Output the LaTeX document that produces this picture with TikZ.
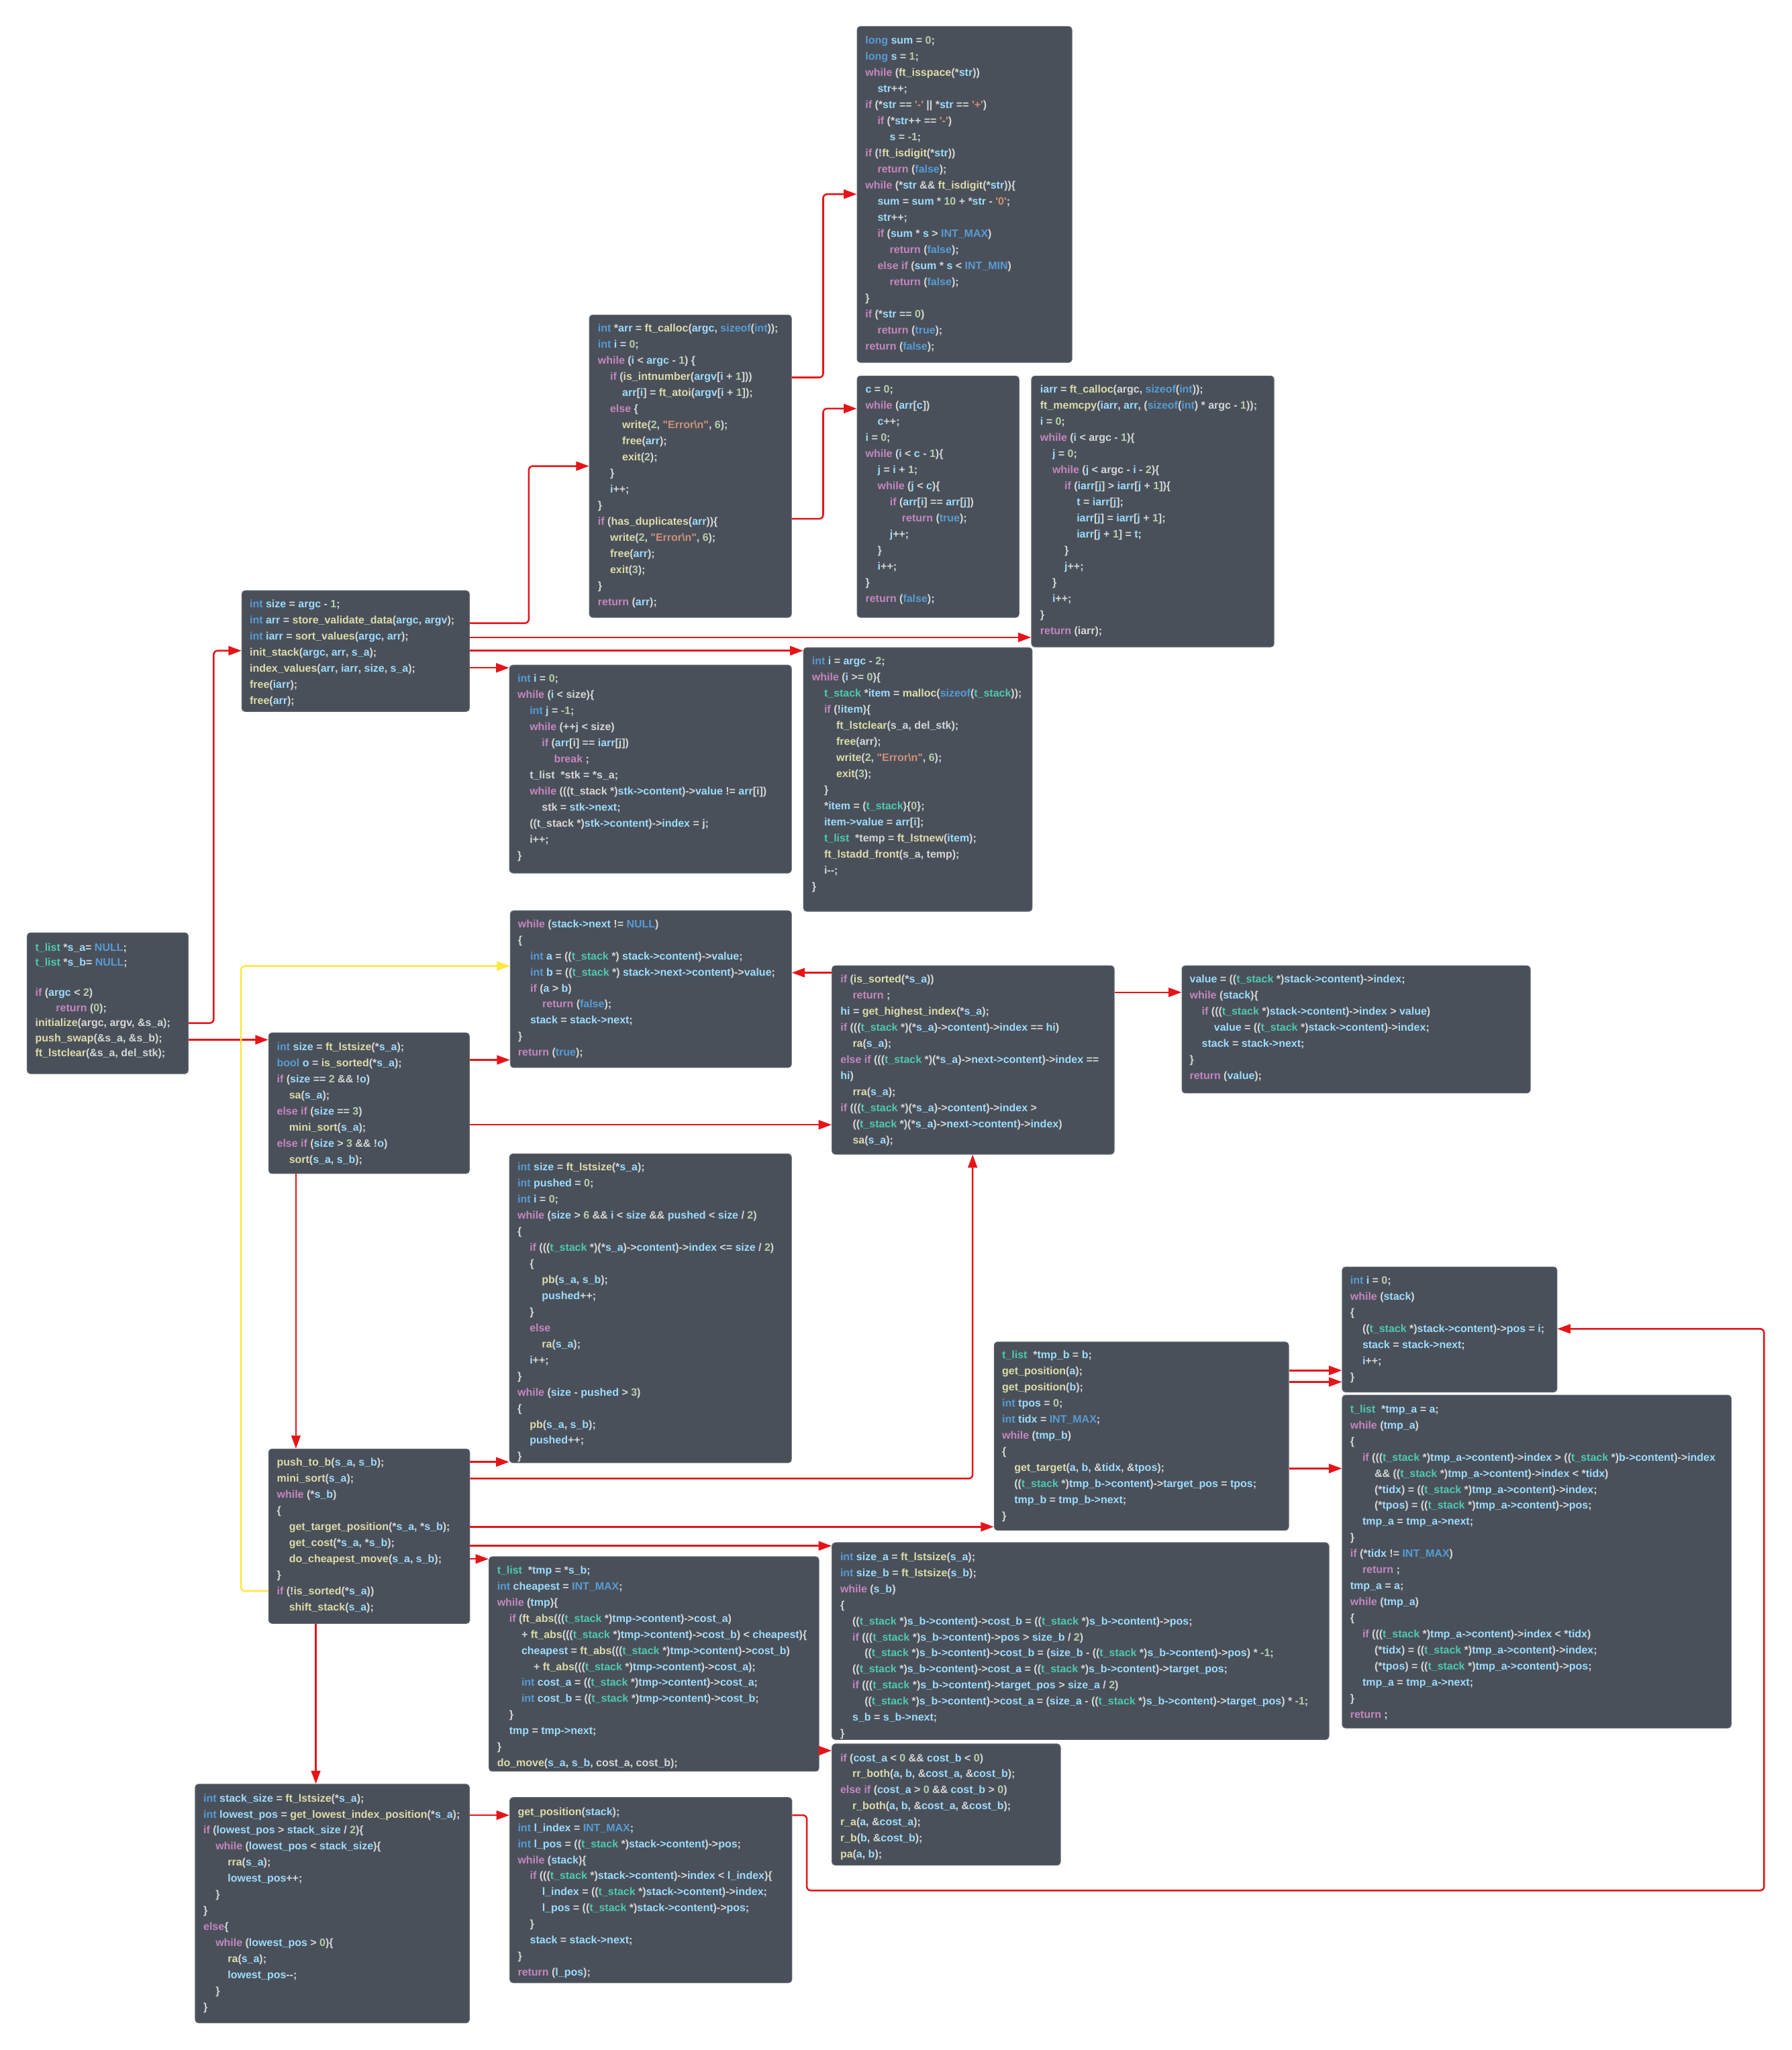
\documentclass[tikz,border=0pt]{standalone}
\usepackage{fontspec}
\newfontfamily\codefont{Liberation Sans}
\usetikzlibrary{arrows.meta}

% syntax colours
\definecolor{colkw}{RGB}{197,134,192}
\definecolor{colty}{RGB}{86,156,214}
\definecolor{colfn}{RGB}{220,220,170}
\definecolor{colva}{RGB}{156,220,254}
\definecolor{colnm}{RGB}{181,206,168}
\definecolor{colsr}{RGB}{206,145,120}
\definecolor{coltp}{RGB}{78,201,176}
\definecolor{colpl}{RGB}{214,214,214}
% boxes and connectors
\definecolor{boxfill}{RGB}{74,80,89}
\definecolor{boxline}{RGB}{98,103,111}
\definecolor{cred}{RGB}{230,20,24}
\definecolor{cyel}{RGB}{255,231,58}

\newcommand\kw[1]{\textcolor{colkw}{#1}}
\newcommand\ty[1]{\textcolor{colty}{#1}}
\newcommand\fn[1]{\textcolor{colfn}{#1}}
\newcommand\va[1]{\textcolor{colva}{#1}}
\newcommand\nm[1]{\textcolor{colnm}{#1}}
\newcommand\sr[1]{\textcolor{colsr}{#1}}
\newcommand\tp[1]{\textcolor{coltp}{#1}}

% one code line with an indentation level, and a block of such lines
\newdimen\codeind \codeind=9.3pt
\newcommand\cln[2]{\hbox{\hspace*{#1\codeind}#2}}
\newcommand\cblk[2]{\vtop{\baselineskip=#1\relax\lineskiplimit=-\maxdimen\lineskip=0pt\relax #2}}

\begin{document}
\begin{tikzpicture}[x=1pt,y=-1pt,
  cbox/.style={draw=boxline, line width=0.5pt, fill=boxfill, rounded corners=2.5pt,
               anchor=north west, inner sep=0pt},
  ctext/.style={anchor=base west, inner sep=0pt, text=colpl,
               font=\codefont\bfseries\fontsize{8.2}{12.3}\selectfont},
  conn/.style={draw=cred, line width=1.3pt, rounded corners=3pt,
               -{Triangle[length=10pt,width=7pt]}},
  yconn/.style={conn, draw=cyel}]

\fill[white] (0,0) rectangle (1370,1568);
\useasboundingbox (0,0) rectangle (1370,1568);

% ---------------- boxes ----------------
\node[cbox, minimum width=164.3pt, minimum height=257pt]   (batoi)     at (655.2,20) {};
\node[cbox, minimum width=154.5pt, minimum height=231.4pt] (bstore)    at (450.5,240.6) {};
\node[cbox, minimum width=123.8pt, minimum height=184.7pt] (bdup)      at (655.2,287.3) {};
\node[cbox, minimum width=185.4pt, minimum height=207.3pt] (bsortv)    at (788.6,287.3) {};
\node[cbox, minimum width=174pt,   minimum height=92.5pt]  (bmain)     at (184.7,451.5) {};
\node[cbox, minimum width=215.6pt, minimum height=159pt]   (bindex)    at (389.4,508.5) {};
\node[cbox, minimum width=174.9pt, minimum height=201.7pt] (binit)     at (614.2,495.1) {};
\node[cbox, minimum width=123.2pt, minimum height=107.8pt] (bleft)     at (20.5,713.2) {};
\node[cbox, minimum width=153.5pt, minimum height=107.7pt] (bps)       at (205.2,789.7) {};
\node[cbox, minimum width=215pt,   minimum height=120pt]   (bissorted) at (390,696.3) {};
\node[cbox, minimum width=215.8pt, minimum height=144.2pt] (bmini)     at (636,738.4) {};
\node[cbox, minimum width=266.4pt, minimum height=97.4pt]  (bhi)       at (903.6,738.4) {};
\node[cbox, minimum width=215.6pt, minimum height=236.3pt] (bptb)      at (389.4,882.3) {};
\node[cbox, minimum width=153.8pt, minimum height=133.5pt] (bsort)     at (205.2,1108) {};
\node[cbox, minimum width=225.2pt, minimum height=144pt]   (bgtp)      at (760,1026.2) {};
\node[cbox, minimum width=164.2pt, minimum height=95.7pt]  (bpos)      at (1026.2,968.8) {};
\node[cbox, minimum width=297.4pt, minimum height=254.7pt] (btgt)      at (1026.2,1066.8) {};
\node[cbox, minimum width=380pt,   minimum height=150.6pt] (bcost)     at (636,1179.7) {};
\node[cbox, minimum width=252.3pt, minimum height=164.2pt] (bdcm)      at (373.7,1190.4) {};
\node[cbox, minimum width=174.7pt, minimum height=92.8pt]  (bmove)     at (636,1333.6) {};
\node[cbox, minimum width=209.7pt, minimum height=182.6pt] (bshift)    at (149,1364.4) {};
\node[cbox, minimum width=215.7pt, minimum height=141.7pt] (bgetpos)   at (389.6,1374.6) {};

% ---------------- code ----------------
\node[ctext] (tatoi) at (661.6,33.8) {\cblk{12.3pt}{
\cln{0}{\ty{long} \va{sum} = \nm{0};}
\cln{0}{\ty{long} \va{s} = \nm{1};}
\cln{0}{\kw{while} (\fn{ft\_isspace}(*\va{str}))}
\cln{1}{\va{str}++;}
\cln{0}{\kw{if} (*\va{str} == \sr{'-'} || *\va{str} == \sr{'+'})}
\cln{1}{\kw{if} (*\va{str}++ == \sr{'-'})}
\cln{2}{\va{s} = \nm{-1};}
\cln{0}{\kw{if} (!\fn{ft\_isdigit}(*\va{str}))}
\cln{1}{\kw{return} (\ty{false});}
\cln{0}{\kw{while} (*\va{str} \&\& \fn{ft\_isdigit}(*\va{str}))\{}
\cln{1}{\va{sum} = \va{sum} * \nm{10} + *\va{str} - \sr{'0'};}
\cln{1}{\va{str}++;}
\cln{1}{\kw{if} (\va{sum} * \va{s} > \ty{INT\_MAX})}
\cln{2}{\kw{return} (\ty{false});}
\cln{1}{\kw{else if} (\va{sum} * \va{s} < \ty{INT\_MIN})}
\cln{2}{\kw{return} (\ty{false});}
\cln{0}{\}}
\cln{0}{\kw{if} (*\va{str} == \nm{0})}
\cln{1}{\kw{return} (\ty{true});}
\cln{0}{\kw{return} (\ty{false});}
}};

\node[ctext] (tstore) at (457.1,253.9) {\cblk{12.3pt}{
\cln{0}{\ty{int} *\va{arr} = \fn{ft\_calloc}(\va{argc}, \ty{sizeof}(\ty{int}));}
\cln{0}{\ty{int} \va{i} = \nm{0};}
\cln{0}{\kw{while} (\va{i} < \va{argc} - \nm{1}) \{}
\cln{1}{\kw{if} (\fn{is\_intnumber}(\va{argv}[\va{i} + \nm{1}]))}
\cln{2}{\va{arr}[\va{i}] = \fn{ft\_atoi}(\va{argv}[\va{i} + \nm{1}]);}
\cln{1}{\kw{else} \{}
\cln{2}{\fn{write}(\nm{2}, \sr{"Error\textbackslash n"}, \nm{6});}
\cln{2}{\fn{free}(\va{arr});}
\cln{2}{\fn{exit}(\nm{2});}
\cln{1}{\}}
\cln{1}{\va{i}++;}
\cln{0}{\}}
\cln{0}{\kw{if} (\fn{has\_duplicates}(\va{arr}))\{}
\cln{1}{\fn{write}(\nm{2}, \sr{"Error\textbackslash n"}, \nm{6});}
\cln{1}{\fn{free}(\va{arr});}
\cln{1}{\fn{exit}(\nm{3});}
\cln{0}{\}}
\cln{0}{\kw{return} (\va{arr});}
}};

\node[ctext] (tdup) at (661.7,300.6) {\cblk{12.3pt}{
\cln{0}{\va{c} = \nm{0};}
\cln{0}{\kw{while} (\va{arr}[\va{c}])}
\cln{1}{\va{c}++;}
\cln{0}{\va{i} = \nm{0};}
\cln{0}{\kw{while} (\va{i} < \va{c} - \nm{1})\{}
\cln{1}{\va{j} = \va{i} + \nm{1};}
\cln{1}{\kw{while} (\va{j} < \va{c})\{}
\cln{2}{\kw{if} (\va{arr}[\va{i}] == \va{arr}[\va{j}])}
\cln{3}{\kw{return} (\ty{true});}
\cln{2}{\va{j}++;}
\cln{1}{\}}
\cln{1}{\va{i}++;}
\cln{0}{\}}
\cln{0}{\kw{return} (\ty{false});}
}};

\node[ctext] (tsortv) at (795.3,300.6) {\cblk{12.3pt}{
\cln{0}{\va{iarr} = \fn{ft\_calloc}(argc, \ty{sizeof}(\ty{int}));}
\cln{0}{\fn{ft\_memcpy}(\va{iarr}, \va{arr}, (\ty{sizeof}(\ty{int}) * argc - \nm{1}));}
\cln{0}{\va{i} = \nm{0};}
\cln{0}{\kw{while} (\va{i} < argc - \nm{1})\{}
\cln{1}{\va{j} = \nm{0};}
\cln{1}{\kw{while} (\va{j} < argc - \va{i} - \nm{2})\{}
\cln{2}{\kw{if} (\va{iarr}[\va{j}] > \va{iarr}[\va{j} + \nm{1}])\{}
\cln{3}{\va{t} = \va{iarr}[\va{j}];}
\cln{3}{\va{iarr}[\va{j}] = \va{iarr}[\va{j} + \nm{1}];}
\cln{3}{\va{iarr}[\va{j} + \nm{1}] = \va{t};}
\cln{2}{\}}
\cln{2}{\va{j}++;}
\cln{1}{\}}
\cln{1}{\va{i}++;}
\cln{0}{\}}
\cln{0}{\kw{return} (iarr);}
}};

\node[ctext] (tmain) at (190.8,464.8) {\cblk{12.3pt}{
\cln{0}{\ty{int} \va{size} = \va{argc} - \nm{1};}
\cln{0}{\ty{int} \va{arr} = \fn{store\_validate\_data}(\va{argc}, \va{argv});}
\cln{0}{\ty{int} \va{iarr} = \fn{sort\_values}(\va{argc}, \va{arr});}
\cln{0}{\fn{init\_stack}(\va{argc}, \va{arr}, \va{s\_a});}
\cln{0}{\fn{index\_values}(\va{arr}, \va{iarr}, \va{size}, \va{s\_a});}
\cln{0}{\fn{free}(\va{iarr});}
\cln{0}{\fn{free}(\va{arr});}
}};

\node[ctext] (tindex) at (395.6,521.7) {\cblk{12.3pt}{
\cln{0}{\ty{int} \va{i} = \nm{0};}
\cln{0}{\kw{while} (\va{i} < size)\{}
\cln{1}{\ty{int} \va{j} = \nm{-1};}
\cln{1}{\kw{while} (++j < size)}
\cln{2}{\kw{if} (\va{arr}[i] == \va{iarr}[j])}
\cln{3}{\kw{break} ;}
\cln{1}{t\_list\ \ *stk = *s\_a;}
\cln{1}{\kw{while} (((t\_stack *)\va{stk->content})->\va{value} != \va{arr}[i])}
\cln{2}{stk = \va{stk->next};}
\cln{1}{((t\_stack *)\va{stk->content})->\va{index} = j;}
\cln{1}{i++;}
\cln{0}{\}}
}};

\node[ctext] (tinit) at (620.8,508.4) {\cblk{12.3pt}{
\cln{0}{\ty{int} \va{i} = \va{argc} - \nm{2};}
\cln{0}{\kw{while} (\va{i} >= \nm{0})\{}
\cln{1}{\tp{t\_stack} *\va{item} = \fn{malloc}(\ty{sizeof}(\tp{t\_stack}));}
\cln{1}{\kw{if} (!\va{item})\{}
\cln{2}{\fn{ft\_lstclear}(s\_a, del\_stk);}
\cln{2}{\fn{free}(arr);}
\cln{2}{\fn{write}(\nm{2}, \sr{"Error\textbackslash n"}, \nm{6});}
\cln{2}{\fn{exit}(\nm{3});}
\cln{1}{\}}
\cln{1}{*\va{item} = (\tp{t\_stack})\{\nm{0}\};}
\cln{1}{\va{item->value} = \va{arr}[\va{i}];}
\cln{1}{\tp{t\_list}\ \ *temp = \fn{ft\_lstnew}(\va{item});}
\cln{1}{\fn{ft\_lstadd\_front}(s\_a, temp);}
\cln{1}{i--;}
\cln{0}{\}}
}};

\node[ctext] (tleft) at (26.8,727.3) {\cblk{11.55pt}{
\cln{0}{\tp{t\_list} *\va{s\_a}= \ty{NULL};}
\cln{0}{\tp{t\_list} *\va{s\_b}= \ty{NULL};}
\cln{0}{}
\cln{0}{\kw{if} (\va{argc} < \nm{2})}
\cln{1.7}{\kw{return} (\nm{0});}
\cln{0}{\fn{initialize}(argc, argv, \&s\_a);}
\cln{0}{\fn{push\_swap}(\&s\_a, \&s\_b);}
\cln{0}{\fn{ft\_lstclear}(\&s\_a, del\_stk);}
}};

\node[ctext] (tps) at (211.6,803.4) {\cblk{12.3pt}{
\cln{0}{\ty{int} \va{size} = \fn{ft\_lstsize}(*\va{s\_a});}
\cln{0}{\ty{bool} \va{o} = \fn{is\_sorted}(*\va{s\_a});}
\cln{0}{\kw{if} (\va{size} == \nm{2} \&\& !\va{o})}
\cln{1}{\fn{sa}(\va{s\_a});}
\cln{0}{\kw{else if} (\va{size} == \nm{3})}
\cln{1}{\fn{mini\_sort}(\va{s\_a});}
\cln{0}{\kw{else if} (\va{size} > \nm{3} \&\& !\va{o})}
\cln{1}{\fn{sort}(\va{s\_a}, \va{s\_b});}
}};

\node[ctext] (tissorted) at (396,709.4) {\cblk{12.3pt}{
\cln{0}{\kw{while} (\va{stack->next} != \ty{NULL})}
\cln{0}{\{}
\cln{1}{\ty{int} \va{a} = ((\tp{t\_stack} *) \va{stack->content})->\va{value};}
\cln{1}{\ty{int} \va{b} = ((\tp{t\_stack} *) \va{stack->next->content})->\va{value};}
\cln{1}{\kw{if} (\va{a} > \va{b})}
\cln{2}{\kw{return} (\ty{false});}
\cln{1}{\va{stack} = \va{stack->next};}
\cln{0}{\}}
\cln{0}{\kw{return} (\ty{true});}
}};

\node[ctext] (tmini) at (642.6,751.8) {\cblk{12.3pt}{
\cln{0}{\kw{if} (\fn{is\_sorted}(*\va{s\_a}))}
\cln{1}{\kw{return} ;}
\cln{0}{\va{hi} = \fn{get\_highest\_index}(*\va{s\_a});}
\cln{0}{\kw{if} (((\tp{t\_stack} *)(*\va{s\_a})->\va{content})->\va{index} == \va{hi})}
\cln{1}{\fn{ra}(\va{s\_a});}
\cln{0}{\kw{else if} (((\tp{t\_stack} *)(*\va{s\_a})->\va{next->content})->\va{index} ==}
\cln{0}{\va{hi})}
\cln{1}{\fn{rra}(\va{s\_a});}
\cln{0}{\kw{if} (((\tp{t\_stack} *)(*\va{s\_a})->\va{content})->\va{index} >}
\cln{1}{((\tp{t\_stack} *)(*\va{s\_a})->\va{next->content})->\va{index})}
\cln{1}{\fn{sa}(\va{s\_a});}
}};

\node[ctext] (thi) at (909.6,751.8) {\cblk{12.3pt}{
\cln{0}{\va{value} = ((\tp{t\_stack} *)\va{stack->content})->\va{index};}
\cln{0}{\kw{while} (\va{stack})\{}
\cln{1}{\kw{if} (((\tp{t\_stack} *)\va{stack->content})->\va{index} > \va{value})}
\cln{2}{\va{value} = ((\tp{t\_stack} *)\va{stack->content})->\va{index};}
\cln{1}{\va{stack} = \va{stack->next};}
\cln{0}{\}}
\cln{0}{\kw{return} (\va{value});}
}};

\node[ctext] (tptb) at (395.6,895.4) {\cblk{12.3pt}{
\cln{0}{\ty{int} \va{size} = \fn{ft\_lstsize}(*\va{s\_a});}
\cln{0}{\ty{int} \va{pushed} = \nm{0};}
\cln{0}{\ty{int} \va{i} = \nm{0};}
\cln{0}{\kw{while} (\va{size} > \nm{6} \&\& \va{i} < \va{size} \&\& \va{pushed} < \va{size} / \nm{2})}
\cln{0}{\{}
\cln{1}{\kw{if} (((\tp{t\_stack} *)(*\va{s\_a})->\va{content})->\va{index} <= \va{size} / \nm{2})}
\cln{1}{\{}
\cln{2}{\fn{pb}(\va{s\_a}, \va{s\_b});}
\cln{2}{\va{pushed}++;}
\cln{1}{\}}
\cln{1}{\kw{else}}
\cln{2}{\fn{ra}(\va{s\_a});}
\cln{1}{\va{i}++;}
\cln{0}{\}}
\cln{0}{\kw{while} (\va{size} - \va{pushed} > \nm{3})}
\cln{0}{\{}
\cln{1}{\fn{pb}(\va{s\_a}, \va{s\_b});}
\cln{1}{\va{pushed}++;}
\cln{0}{\}}
}};

\node[ctext] (tsort) at (211.6,1121.2) {\cblk{12.3pt}{
\cln{0}{\fn{push\_to\_b}(\va{s\_a}, \va{s\_b});}
\cln{0}{\fn{mini\_sort}(\va{s\_a});}
\cln{0}{\kw{while} (*\va{s\_b})}
\cln{0}{\{}
\cln{1}{\fn{get\_target\_position}(*\va{s\_a}, *\va{s\_b});}
\cln{1}{\fn{get\_cost}(*\va{s\_a}, *\va{s\_b});}
\cln{1}{\fn{do\_cheapest\_move}(\va{s\_a}, \va{s\_b});}
\cln{0}{\}}
\cln{0}{\kw{if} (!\fn{is\_sorted}(*\va{s\_a}))}
\cln{1}{\fn{shift\_stack}(\va{s\_a});}
}};

\node[ctext] (tgtp) at (766.2,1039.2) {\cblk{12.3pt}{
\cln{0}{\tp{t\_list}\ \ *\va{tmp\_b} = \va{b};}
\cln{0}{\fn{get\_position}(\va{a});}
\cln{0}{\fn{get\_position}(\va{b});}
\cln{0}{\ty{int} \va{tpos} = \nm{0};}
\cln{0}{\ty{int} \va{tidx} = \ty{INT\_MAX};}
\cln{0}{\kw{while} (\va{tmp\_b})}
\cln{0}{\{}
\cln{1}{\fn{get\_target}(\va{a}, \va{b}, \&\va{tidx}, \&\va{tpos});}
\cln{1}{((\tp{t\_stack} *)\va{tmp\_b->content})->\va{target\_pos} = \va{tpos};}
\cln{1}{\va{tmp\_b} = \va{tmp\_b->next};}
\cln{0}{\}}
}};

\node[ctext] (tpos) at (1032.4,982) {\cblk{12.3pt}{
\cln{0}{\ty{int} \va{i} = \nm{0};}
\cln{0}{\kw{while} (\va{stack})}
\cln{0}{\{}
\cln{1}{((\tp{t\_stack} *)\va{stack->content})->\va{pos} = \va{i};}
\cln{1}{\va{stack} = \va{stack->next};}
\cln{1}{\va{i}++;}
\cln{0}{\}}
}};

\node[ctext] (ttgt) at (1032.4,1080.5) {\cblk{12.3pt}{
\cln{0}{\tp{t\_list}\ \ *\va{tmp\_a} = \va{a};}
\cln{0}{\kw{while} (\va{tmp\_a})}
\cln{0}{\{}
\cln{1}{\kw{if} (((\tp{t\_stack} *)\va{tmp\_a->content})->\va{index} > ((\tp{t\_stack} *)\va{b->content})->\va{index}}
\cln{2}{\&\& ((\tp{t\_stack} *)\va{tmp\_a->content})->\va{index} < *\va{tidx})}
\cln{2}{(*\va{tidx}) = ((\tp{t\_stack} *)\va{tmp\_a->content})->\va{index};}
\cln{2}{(*\va{tpos}) = ((\tp{t\_stack} *)\va{tmp\_a->content})->\va{pos};}
\cln{1}{\va{tmp\_a} = \va{tmp\_a->next};}
\cln{0}{\}}
\cln{0}{\kw{if} (*\va{tidx} != \ty{INT\_MAX})}
\cln{1}{\kw{return} ;}
\cln{0}{\va{tmp\_a} = \va{a};}
\cln{0}{\kw{while} (\va{tmp\_a})}
\cln{0}{\{}
\cln{1}{\kw{if} (((\tp{t\_stack} *)\va{tmp\_a->content})->\va{index} < *\va{tidx})}
\cln{2}{(*\va{tidx}) = ((\tp{t\_stack} *)\va{tmp\_a->content})->\va{index};}
\cln{2}{(*\va{tpos}) = ((\tp{t\_stack} *)\va{tmp\_a->content})->\va{pos};}
\cln{1}{\va{tmp\_a} = \va{tmp\_a->next};}
\cln{0}{\}}
\cln{0}{\kw{return} ;}
}};

\node[ctext] (tcost) at (642.4,1193.4) {\cblk{12.3pt}{
\cln{0}{\ty{int} \va{size\_a} = \fn{ft\_lstsize}(\va{s\_a});}
\cln{0}{\ty{int} \va{size\_b} = \fn{ft\_lstsize}(\va{s\_b});}
\cln{0}{\kw{while} (\va{s\_b})}
\cln{0}{\{}
\cln{1}{((\tp{t\_stack} *)\va{s\_b->content})->\va{cost\_b} = ((\tp{t\_stack} *)\va{s\_b->content})->\va{pos};}
\cln{1}{\kw{if} (((\tp{t\_stack} *)\va{s\_b->content})->\va{pos} > \va{size\_b} / \nm{2})}
\cln{2}{((\tp{t\_stack} *)\va{s\_b->content})->\va{cost\_b} = (\va{size\_b} - ((\tp{t\_stack} *)\va{s\_b->content})->\va{pos}) * \nm{-1};}
\cln{1}{((\tp{t\_stack} *)\va{s\_b->content})->\va{cost\_a} = ((\tp{t\_stack} *)\va{s\_b->content})->\va{target\_pos};}
\cln{1}{\kw{if} (((\tp{t\_stack} *)\va{s\_b->content})->\va{target\_pos} > \va{size\_a} / \nm{2})}
\cln{2}{((\tp{t\_stack} *)\va{s\_b->content})->\va{cost\_a} = (\va{size\_a} - ((\tp{t\_stack} *)\va{s\_b->content})->\va{target\_pos}) * \nm{-1};}
\cln{1}{\va{s\_b} = \va{s\_b->next};}
\cln{0}{\}}
}};

\node[ctext] (tdcm) at (380,1203.7) {\cblk{12.3pt}{
\cln{0}{\tp{t\_list}\ \ *\va{tmp} = *\va{s\_b};}
\cln{0}{\ty{int} \va{cheapest} = \ty{INT\_MAX};}
\cln{0}{\kw{while} (\va{tmp})\{}
\cln{1}{\kw{if} (\fn{ft\_abs}(((\tp{t\_stack} *)\va{tmp->content})->\va{cost\_a})}
\cln{2}{+ \fn{ft\_abs}(((\tp{t\_stack} *)\va{tmp->content})->\va{cost\_b}) < \va{cheapest})\{}
\cln{2}{\va{cheapest} = \fn{ft\_abs}(((\tp{t\_stack} *)\va{tmp->content})->\va{cost\_b})}
\cln{3}{+ \fn{ft\_abs}(((\tp{t\_stack} *)\va{tmp->content})->\va{cost\_a});}
\cln{2}{\ty{int} \va{cost\_a} = ((\tp{t\_stack} *)\va{tmp->content})->\va{cost\_a};}
\cln{2}{\ty{int} \va{cost\_b} = ((\tp{t\_stack} *)\va{tmp->content})->\va{cost\_b};}
\cln{1}{\}}
\cln{1}{\va{tmp} = \va{tmp->next};}
\cln{0}{\}}
\cln{0}{\fn{do\_move}(\va{s\_a}, \va{s\_b}, cost\_a, cost\_b);}
}};

\node[ctext] (tmove) at (642.4,1347.3) {\cblk{12.3pt}{
\cln{0}{\kw{if} (\va{cost\_a} < \nm{0} \&\& \va{cost\_b} < \nm{0})}
\cln{1}{\fn{rr\_both}(\va{a}, \va{b}, \&\va{cost\_a}, \&\va{cost\_b});}
\cln{0}{\kw{else if} (\va{cost\_a} > \nm{0} \&\& \va{cost\_b} > \nm{0})}
\cln{1}{\fn{r\_both}(\va{a}, \va{b}, \&\va{cost\_a}, \&\va{cost\_b});}
\cln{0}{\fn{r\_a}(\va{a}, \&\va{cost\_a});}
\cln{0}{\fn{r\_b}(\va{b}, \&\va{cost\_b});}
\cln{0}{\fn{pa}(\va{a}, \va{b});}
}};

\node[ctext] (tshift) at (155.4,1378.1) {\cblk{12.3pt}{
\cln{0}{\ty{int} \va{stack\_size} = \fn{ft\_lstsize}(*\va{s\_a});}
\cln{0}{\ty{int} \va{lowest\_pos} = \fn{get\_lowest\_index\_position}(*\va{s\_a});}
\cln{0}{\kw{if} (\va{lowest\_pos} > \va{stack\_size} / \nm{2})\{}
\cln{1}{\kw{while} (\va{lowest\_pos} < \va{stack\_size})\{}
\cln{2}{\fn{rra}(\va{s\_a});}
\cln{2}{\va{lowest\_pos}++;}
\cln{1}{\}}
\cln{0}{\}}
\cln{0}{\kw{else}\{}
\cln{1}{\kw{while} (\va{lowest\_pos} > \nm{0})\{}
\cln{2}{\fn{ra}(\va{s\_a});}
\cln{2}{\va{lowest\_pos}--;}
\cln{1}{\}}
\cln{0}{\}}
}};

\node[ctext] (tgetpos) at (395.8,1388.4) {\cblk{12.3pt}{
\cln{0}{\fn{get\_position}(\va{stack});}
\cln{0}{\ty{int} \va{l\_index} = \ty{INT\_MAX};}
\cln{0}{\ty{int} \va{l\_pos} = ((\tp{t\_stack} *)\va{stack->content})->\va{pos};}
\cln{0}{\kw{while} (\va{stack})\{}
\cln{1}{\kw{if} (((\tp{t\_stack} *)\va{stack->content})->\va{index} < \va{l\_index})\{}
\cln{2}{\va{l\_index} = ((\tp{t\_stack} *)\va{stack->content})->\va{index};}
\cln{2}{\va{l\_pos} = ((\tp{t\_stack} *)\va{stack->content})->\va{pos};}
\cln{1}{\}}
\cln{1}{\va{stack} = \va{stack->next};}
\cln{0}{\}}
\cln{0}{\kw{return} (\va{l\_pos});}
}};

% ---------------- connectors ----------------
\draw[conn] (bleft.east |- 0,782.5) -- (163.4,782.5) -- (163.4,497.7) -- (bmain.west |- 0,497.7);
\draw[conn] (bleft.east |- 0,795.3) -- (bps.west |- 0,795.3);

\draw[conn] (bmain.east |- 0,476.6) -- (404.4,476.6) -- (404.4,356.5) -- (bstore.west |- 0,356.5);
\draw[conn] (bmain.east |- 0,487.5) -- (bsortv.west |- 0,487.5);
\draw[conn] (bmain.east |- 0,497.7) -- (binit.west |- 0,497.7);
\draw[conn] (bmain.east |- 0,510.8) -- (bindex.west |- 0,510.8);

\draw[conn] (bstore.east |- 0,288.7) -- (629.5,288.7) -- (629.5,148.5) -- (batoi.west |- 0,148.5);
\draw[conn] (bstore.east |- 0,396.8) -- (629.5,396.8) -- (629.5,312.5) -- (bdup.west |- 0,312.5);

\draw[conn] (bps.east |- 0,810.7) -- (bissorted.west |- 0,810.7);
\draw[conn] (bps.east |- 0,860.3) -- (bmini.west |- 0,860.3);
\draw[conn] (bps.south -| 226.3,0) -- (bsort.north -| 226.3,0);

\draw[conn] (bmini.east |- 0,759) -- (bhi.west |- 0,759);
\draw[conn] (bmini.west |- 0,744) -- (bissorted.east |- 0,744);

\draw[conn] (bsort.east |- 0,1118.2) -- (bptb.west |- 0,1118.2);
\draw[conn] (bsort.east |- 0,1130.9) -- (743.8,1130.9) -- (bmini.south -| 743.8,0);
\draw[conn] (bsort.east |- 0,1167.8) -- (bgtp.west |- 0,1167.8);
\draw[conn] (bsort.east |- 0,1182.4) -- (bcost.west |- 0,1182.4);
\draw[conn] (bsort.east |- 0,1192.4) -- (bdcm.west |- 0,1192.4);
\draw[yconn] (bsort.west |- 0,1216.9) -- (184.3,1216.9) -- (184.3,738.9) -- (bissorted.west |- 0,738.9);
\draw[conn] (bsort.south -| 241.5,0) -- (bshift.north -| 241.5,0);

\draw[conn] (bgtp.east |- 0,1048.2) -- (bpos.west |- 0,1048.2);
\draw[conn] (bgtp.east |- 0,1057) -- (bpos.west |- 0,1057);
\draw[conn] (bgtp.east |- 0,1123.2) -- (btgt.west |- 0,1123.2);

\draw[conn] (bshift.east |- 0,1388.4) -- (bgetpos.west |- 0,1388.4);
\draw[conn] (bgetpos.east |- 0,1388.4) -- (617,1388.4) -- (617,1446) -- (1349,1446) -- (1349,1016.4) -- (bpos.east |- 0,1016.4);
\draw[conn] (bdcm.east |- 0,1339) -- (bmove.west |- 0,1339);

\end{tikzpicture}
\end{document}
